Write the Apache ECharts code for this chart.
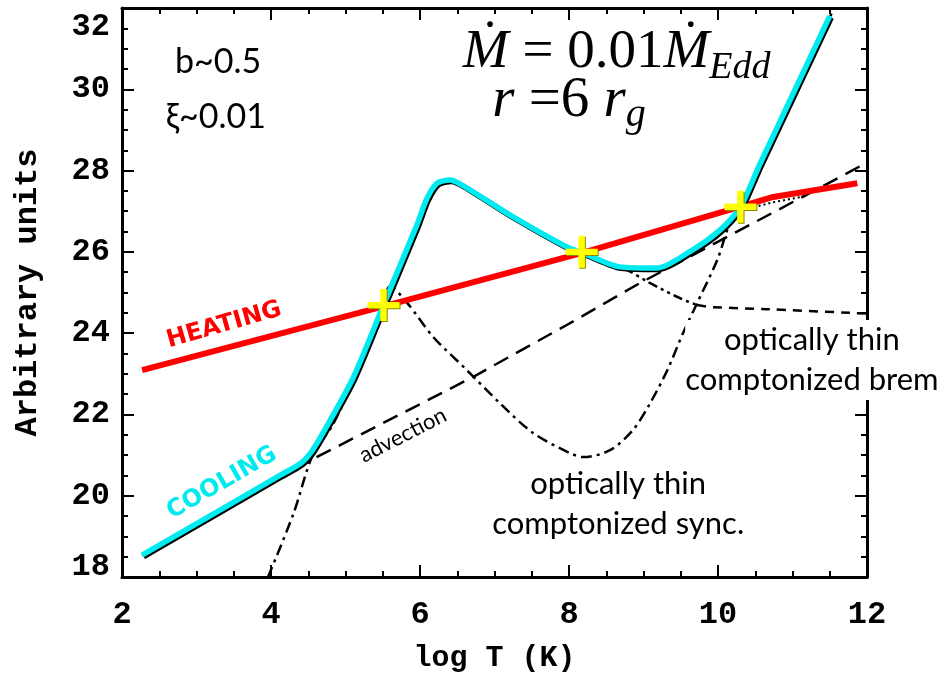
<!DOCTYPE html>
<html><head><meta charset="utf-8">
<script src="https://cdn.jsdelivr.net/npm/echarts@6/dist/echarts.min.js"></script>
<style>html,body{margin:0;padding:0;background:#fff}#c{width:950px;height:684px}</style>
</head><body><div id="c"></div>
<script>
// ---- data (x = log T, y = arbitrary units) ----
const heatT = [2.27, 5.51, 8.19, 10.28, 10.74, 11.87];
const heatL = [23.09, 24.66, 25.98, 27.10, 27.35, 27.69];

const coolT = [2.27, 4.12, 4.40, 4.55, 4.70, 5.10, 5.51, 5.96, 6.09, 6.23, 6.40, 6.56, 7.25, 7.97, 8.19, 8.68, 9.18, 9.66, 10.03, 10.30, 10.56, 11.50];
const coolL = [18.54, 20.50, 20.80, 21.10, 21.55, 22.89, 24.69, 26.67, 27.30, 27.69, 27.77, 27.65, 26.86, 26.12, 25.97, 25.63, 25.60, 26.05, 26.54, 27.10, 28.15, 31.80];

const advT = [2.27, 4.40, 6.71, 7.97, 8.95, 10.30, 11.81, 12.0];
const advL = [18.54, 20.75, 22.92, 24.20, 25.23, 26.54, 28.01, 28.20];

const syncT = [3.96, 4.30, 4.56, 4.83, 5.10, 5.45, 5.60, 5.83, 6.18, 6.63, 7.07, 7.52, 8.01, 8.19, 8.55, 8.86, 9.09, 9.32, 9.53, 9.72, 9.99, 10.16, 10.30, 10.56, 11.56];
const syncL = [18.00, 19.55, 21.00, 21.75, 22.80, 24.35, 25.15, 24.74, 23.90, 23.09, 22.28, 21.54, 21.05, 20.95, 21.12, 21.62, 22.28, 23.09, 24.00, 24.74, 25.80, 26.71, 27.10, 28.15, 32.00];

const bremT1 = [6.40, 7.25, 7.97, 8.19, 8.50, 8.78, 9.09, 9.49, 9.72];
const bremL1 = [27.77, 26.86, 26.12, 25.97, 25.72, 25.55, 25.23, 24.86, 24.69];
const bremT2 = [9.72, 9.93, 10.66, 11.77, 12.0];
const bremL2 = [24.69, 24.64, 24.59, 24.50, 24.48];

const dotT = [10.35, 10.74, 11.20];
const dotL = [27.04, 27.22, 27.38];

const crossT = [5.51, 8.17, 10.30];
const crossL = [24.69, 26.00, 27.11];

const xTickLabels = ['2', '4', '6', '8', '10', '12'];
const yTickLabels = ['18', '20', '22', '24', '26', '28', '30', '32'];

// ---- helpers ----
const zip = (a, b) => a.map((v, i) => [v, b[i]]);
const FT = '"Liberation Mono", "DejaVu Sans Mono", monospace';
const FA = 'Lato, "Open Sans", sans-serif';
const FS = '"Liberation Serif", "DejaVu Serif", serif';
const FB = '"DejaVu Sans", sans-serif';

function axisCommon(extra) {
  return Object.assign({
    type: 'value',
    axisLine: { show: true, onZero: false, lineStyle: { color: '#000', width: 3 } },
    axisTick: { show: true, inside: true, length: 12, lineStyle: { color: '#000', width: 2 } },
    minorTick: { show: true, splitNumber: 4, length: 6, lineStyle: { color: '#000', width: 2 } },
    splitLine: { show: false },
    minorSplitLine: { show: false }
  }, extra);
}

function txt(extra) {
  return Object.assign({ show: true, position: 'inside', color: '#000', textBorderWidth: 0, align: 'center', verticalAlign: 'middle', opacity: 1 }, extra);
}

const chart = echarts.init(document.getElementById('c'), null, { renderer: 'canvas' });

const annLabels = [
  { value: [3.29, 30.67], label: txt({ formatter: 'b~0.5', fontFamily: FA, fontSize: 34 }) },
  { value: [3.26, 29.32], label: txt({ formatter: 'ξ~0.01', fontFamily: FA, fontSize: 34 }) },
  { value: [8.64, 30.90], label: txt({
      formatter: '{i|Ṁ}{n| = 0.01}{i|Ṁ}{s|Edd}',
      rich: {
        i: { fontFamily: FS, fontStyle: 'italic', fontSize: 55, lineHeight: 55, color: '#000' },
        n: { fontFamily: FS, fontSize: 55, lineHeight: 55, color: '#000' },
        s: { fontFamily: FS, fontStyle: 'italic', fontSize: 38, lineHeight: 38, padding: [30, 0, 0, 0], color: '#000' }
      } }) },
  { value: [8.00, 29.70], label: txt({
      formatter: '{i|r}{n| =6 }{i|r}{s|g}',
      rich: {
        i: { fontFamily: FS, fontStyle: 'italic', fontSize: 57, lineHeight: 57, color: '#000' },
        n: { fontFamily: FS, fontSize: 57, lineHeight: 57, color: '#000' },
        s: { fontFamily: FS, fontStyle: 'italic', fontSize: 40, lineHeight: 40, padding: [28, 0, 0, 0], color: '#000' }
      } }) },
  { value: [3.37, 24.20], label: txt({ formatter: 'HEATING', fontFamily: FB, fontWeight: 'bold', fontSize: 24, color: '#ff0000', rotate: 16 }) },
  { value: [3.34, 20.31], label: txt({ formatter: 'COOLING', fontFamily: FB, fontWeight: 'bold', fontSize: 24, color: '#00ebf0', rotate: 30 }) },
  { value: [5.77, 21.49], label: txt({ formatter: 'advection', fontFamily: FA, fontSize: 22, rotate: 27 }) },
  { value: [8.66, 19.80], label: txt({ formatter: 'optically thin\ncomptonized sync.', fontFamily: FA, fontSize: 31, lineHeight: 40 }) },
  { value: [11.26, 23.34], label: txt({ formatter: 'optically thin\ncomptonized brem', fontFamily: FA, fontSize: 31, lineHeight: 40, backgroundColor: '#fff' }) }
];

chart.setOption({
  animation: false,
  backgroundColor: '#fff',
  grid: { left: 122, right: 83, top: 8, bottom: 107, containLabel: false },
  xAxis: [
    axisCommon({
      min: 2, max: 12, interval: 2, position: 'bottom',
      axisLabel: { show: true, margin: 22, color: '#000', fontFamily: FT, fontWeight: 'bold', fontSize: 32,
        formatter: v => xTickLabels[Math.round((v - 2) / 2)] },
      name: 'log T (K)', nameLocation: 'middle', nameGap: 66,
      nameTextStyle: { color: '#000', fontFamily: FT, fontWeight: 'bold', fontSize: 30 }
    }),
    axisCommon({ min: 2, max: 12, interval: 2, position: 'top', axisLabel: { show: false } })
  ],
  yAxis: [
    axisCommon({
      min: 18, max: 32, interval: 2, position: 'left',
      axisLabel: { show: true, margin: 12, color: '#000', fontFamily: FT, fontWeight: 'bold', fontSize: 32,
        formatter: v => {
          const t = yTickLabels[Math.round((v - 18) / 2)];
          if (v === 32) return '{t|' + t + '}';
          if (v === 18) return '{b|' + t + '}';
          return t;
        },
        rich: {
          t: { fontFamily: FT, fontWeight: 'bold', fontSize: 32, color: '#000', padding: [38, 0, 0, 0] },
          b: { fontFamily: FT, fontWeight: 'bold', fontSize: 32, color: '#000', padding: [0, 0, 20, 0] }
        } },
      name: 'Arbitrary units', nameLocation: 'middle', nameGap: 78, nameRotate: 90,
      nameTextStyle: { color: '#000', fontFamily: FT, fontWeight: 'bold', fontSize: 32 }
    }),
    axisCommon({ min: 18, max: 32, interval: 2, position: 'right', axisLabel: { show: false } })
  ],
  series: [
    { name: 'advection', type: 'line', data: zip(advT, advL), symbol: 'none', z: 2,
      lineStyle: { color: '#000', width: 2.5, type: [16, 9] } },
    { name: 'sync', type: 'line', data: zip(syncT, syncL), symbol: 'none', smooth: 0.3, z: 2,
      lineStyle: { color: '#000', width: 2.5, type: [11, 5, 3, 5] } },
    { name: 'brem1', type: 'line', data: zip(bremT1, bremL1), symbol: 'none', smooth: 0.3, z: 2,
      lineStyle: { color: '#000', width: 2.5, type: [10, 4, 3, 4, 3, 4] } },
    { name: 'brem2', type: 'line', data: zip(bremT2, bremL2), symbol: 'none', smooth: 0.3, z: 2,
      lineStyle: { color: '#000', width: 2.5, type: [9, 7] } },
    { name: 'dot', type: 'line', data: zip(dotT, dotL), symbol: 'none', z: 2,
      lineStyle: { color: '#000', width: 2, type: [2, 3] } },
    { name: 'HEATING', type: 'line', data: zip(heatT, heatL), symbol: 'none', z: 5,
      lineStyle: { color: '#ff0000', width: 6, cap: 'butt' } },
    { name: 'COOLING', type: 'line', data: zip(coolT, coolL), symbol: 'none', smooth: 0.25, z: 6,
      lineStyle: { color: '#00ebf0', width: 5.5, shadowColor: '#000', shadowOffsetX: 1.5, shadowOffsetY: 1.5, shadowBlur: 0 } },
    { name: 'equilibria', type: 'scatter', data: zip(crossT, crossL), z: 10,
      symbol: 'path://M3.6,0h1.8v3.6h3.6v1.8h-3.6v3.6h-1.8v-3.6h-3.6v-1.8h3.6z', symbolSize: 32,
      itemStyle: { color: '#ffff00', shadowColor: '#8a8a00', shadowOffsetX: 1, shadowOffsetY: 1, shadowBlur: 0, opacity: 1 } },
    { name: 'labels', type: 'scatter', data: annLabels, z: 11, symbolSize: 0, silent: true,
      itemStyle: { opacity: 1 },
      label: txt({}) }
  ]
});
</script>
</body></html>
